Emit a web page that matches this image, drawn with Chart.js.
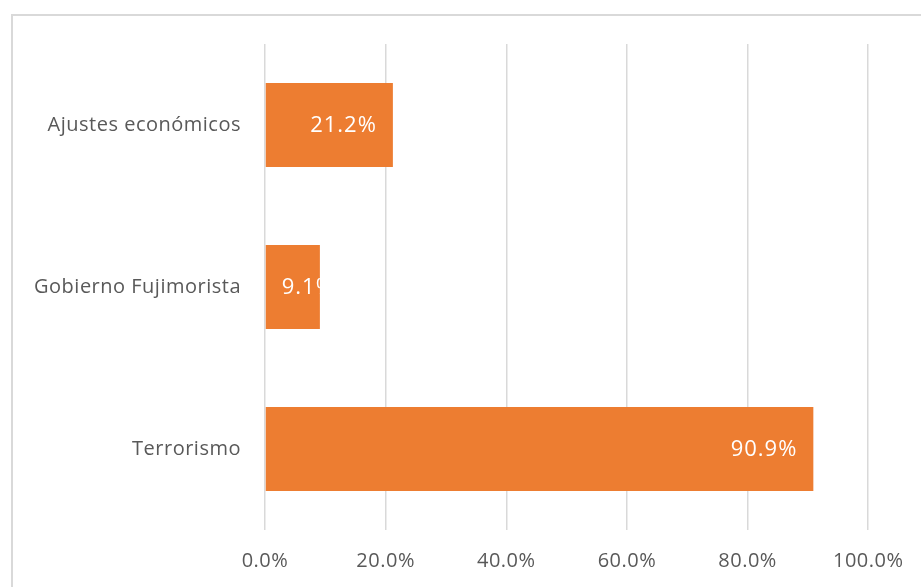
<!DOCTYPE html>
<html>
<head>
<meta charset="utf-8">
<script src="https://cdn.jsdelivr.net/npm/chart.js@4.4.1/dist/chart.umd.min.js"></script>
<style>
    html, body { margin: 0; padding: 0; background: #ffffff; }
    #wrap { position: relative; width: 921px; height: 587px; }
</style>
</head>
<body>
<div id="wrap"><canvas id="chart" width="921" height="587"></canvas></div>
<script>
const categories = ['Ajustes económicos', 'Gobierno Fujimorista', 'Terrorismo'];
const values = [21.2, 9.1, 90.9];
const tickValues = [0, 20, 40, 60, 80, 100];

const FONT = '"Open Sans", "Noto Sans", sans-serif';
const textGray = '#595959';
const gridGray = '#d9d9d9';
const barOrange = '#ed7d31';

// outer chart border (only the top and left edges fall inside the picture)
// also widens the lettering a little, Calibri-like
const frame = {
    id: 'frame',
    beforeDraw: (chart) => {
        const ctx = chart.ctx;
        ctx.save();
        ctx.strokeStyle = gridGray;
        ctx.lineWidth = 2;
        ctx.strokeRect(12, 15, 2000, 2000);
        ctx.restore();
        ctx.letterSpacing = '0.5px';
    }
};

// Excel-style "inside end" labels, clipped to the bar
const barLabels = {
    id: 'barLabels',
    afterDatasetsDraw: (chart) => {
        const ctx = chart.ctx;
        const meta = chart.getDatasetMeta(0);
        ctx.save();
        ctx.font = '22px ' + FONT;
        ctx.letterSpacing = '1px';
        ctx.fillStyle = '#ffffff';
        ctx.textBaseline = 'middle';
        meta.data.forEach((bar, i) => {
            const text = values[i].toFixed(1) + '%';
            const w = ctx.measureText(text).width;
            const h = bar.height;
            let x = Math.max(bar.base + 16, bar.x - 16 - w);
            ctx.save();
            ctx.beginPath();
            ctx.rect(bar.base, bar.y - h / 2, bar.x - bar.base, h);
            ctx.clip();
            ctx.fillText(text, x, bar.y + 1);
            ctx.restore();
        });
        ctx.restore();
    }
};

new Chart(document.getElementById('chart'), {
    type: 'bar',
    data: {
        labels: categories,
        datasets: [{
            data: values,
            backgroundColor: barOrange,
            categoryPercentage: 1,
            barPercentage: 0.52
        }]
    },
    options: {
        indexAxis: 'y',
        responsive: false,
        animation: false,
        layout: { padding: { top: 44, right: 50, left: 0, bottom: 0 } },
        plugins: { legend: { display: false }, tooltip: { enabled: false } },
        scales: {
            x: {
                min: 0,
                max: 100,
                afterBuildTicks: (s) => { s.ticks = tickValues.map(v => ({ value: v })); },
                afterFit: (s) => { s.height = 57; },
                grid: { color: gridGray, lineWidth: 1.5, drawTicks: false },
                border: { display: false },
                ticks: {
                    padding: 19,
                    color: textGray,
                    font: { family: FONT, size: 20 },
                    callback: (v) => v.toFixed(1) + '%'
                }
            },
            y: {
                afterFit: (s) => { s.width = 265; },
                grid: { display: false },
                border: { display: false },
                ticks: {
                    padding: 16,
                    color: textGray,
                    font: { family: FONT, size: 20 }
                }
            }
        }
    },
    plugins: [frame, barLabels]
});
</script>
</body>
</html>
